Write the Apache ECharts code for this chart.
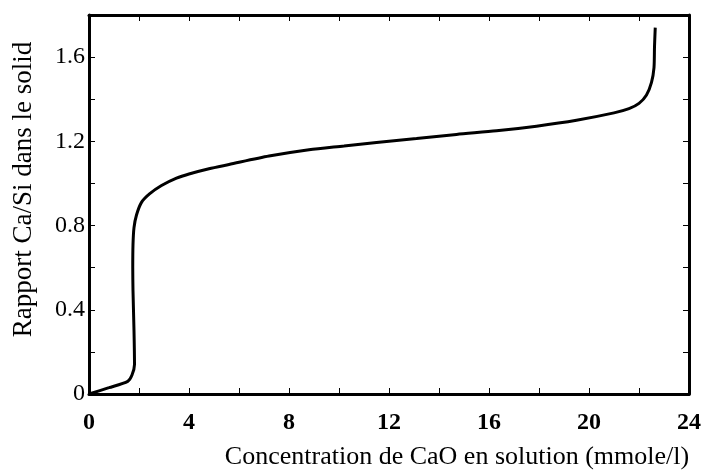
<!DOCTYPE html>
<html>
<head>
<meta charset="utf-8">
<script src="https://cdn.jsdelivr.net/npm/echarts@6/dist/echarts.min.js"></script>
<style>
  html, body { margin: 0; padding: 0; background: #fff; }
  #chart { width: 704px; height: 475px; }
</style>
</head>
<body>
<div id="chart"></div>
<script>
// CaO concentration in solution (mmole/l)
const concCaO = [0, 0.8, 1.55, 1.72, 1.82, 1.80, 1.76, 1.75, 1.76, 1.80, 1.90, 2.10, 2.42, 2.90, 3.50, 4.00, 4.80, 5.60, 7.20, 8.80, 10.2, 11.5, 13.1, 14.7, 16.3, 17.9, 19.5, 21.0, 21.6, 22.0, 22.3, 22.5, 22.6, 22.62, 22.65];
// Ca/Si ratio in the solid
const ratioCaSi = [0, 0.03, 0.06, 0.09, 0.14, 0.30, 0.49, 0.60, 0.71, 0.79, 0.85, 0.91, 0.95, 0.99, 1.025, 1.045, 1.07, 1.09, 1.13, 1.16, 1.178, 1.195, 1.213, 1.233, 1.25, 1.272, 1.30, 1.335, 1.355, 1.38, 1.42, 1.48, 1.55, 1.65, 1.74];

const xTicks = [0, 4, 8, 12, 16, 20, 24];
const yTicks = [0, 0.4, 0.8, 1.2, 1.6];

const chart = echarts.init(document.getElementById('chart'));

const serif = 'Liberation Serif';
const frame = { show: true, onZero: false, lineStyle: { color: '#000', width: 3 } };
const inTick = { show: true, inside: true, length: 6, lineStyle: { color: '#000', width: 1 } };
const minor = { show: true, splitNumber: 2, length: 6, lineStyle: { color: '#000', width: 1 } };

chart.setOption({
  backgroundColor: '#fff',
  animation: false,
  grid: { left: 89, right: 9, top: 15, bottom: 77 },
  xAxis: [{
    type: 'value', min: 0, max: 24, interval: 4,
    axisLine: frame, axisTick: inTick, minorTick: minor,
    splitLine: { show: false },
    axisLabel: {
      color: '#000', fontFamily: serif, fontSize: 24, fontWeight: 'bold', margin: 17,
      formatter: v => xTicks.includes(v) ? String(v) : ''
    },
    name: 'Concentration de CaO en solution (mmole/l)',
    nameLocation: 'middle', nameGap: 50,
    nameTextStyle: { color: '#000', fontFamily: serif, fontSize: 26, padding: [0, 0, 0, 136] }
  }, {
    type: 'value', position: 'top', min: 0, max: 24, interval: 4,
    axisLine: frame, axisTick: inTick, minorTick: minor,
    axisLabel: { show: false }, splitLine: { show: false }
  }],
  yAxis: [{
    type: 'value', min: 0, max: 1.8, interval: 0.4,
    axisLine: frame, axisTick: inTick, minorTick: minor,
    splitLine: { show: false },
    axisLabel: {
      color: '#000', fontFamily: serif, fontSize: 24, margin: 4,
      formatter: v => yTicks.some(t => Math.abs(t - v) < 1e-6) ? (v === 0 ? '0' : v.toFixed(1)) : ''
    },
    name: 'Rapport Ca/Si dans le solid',
    nameLocation: 'middle', nameGap: 52,
    nameTextStyle: { color: '#000', fontFamily: serif, fontSize: 27, padding: [0, 0, 0, 30] }
  }, {
    type: 'value', position: 'right', min: 0, max: 1.8, interval: 0.4,
    axisLine: frame, axisTick: inTick, minorTick: minor,
    axisLabel: { show: false }, splitLine: { show: false }
  }],
  series: [{
    type: 'line',
    data: concCaO.map((x, i) => [x, ratioCaSi[i]]),
    showSymbol: false,
    smooth: 0.25,
    lineStyle: { color: '#000', width: 3 }
  }]
});
</script>
</body>
</html>
